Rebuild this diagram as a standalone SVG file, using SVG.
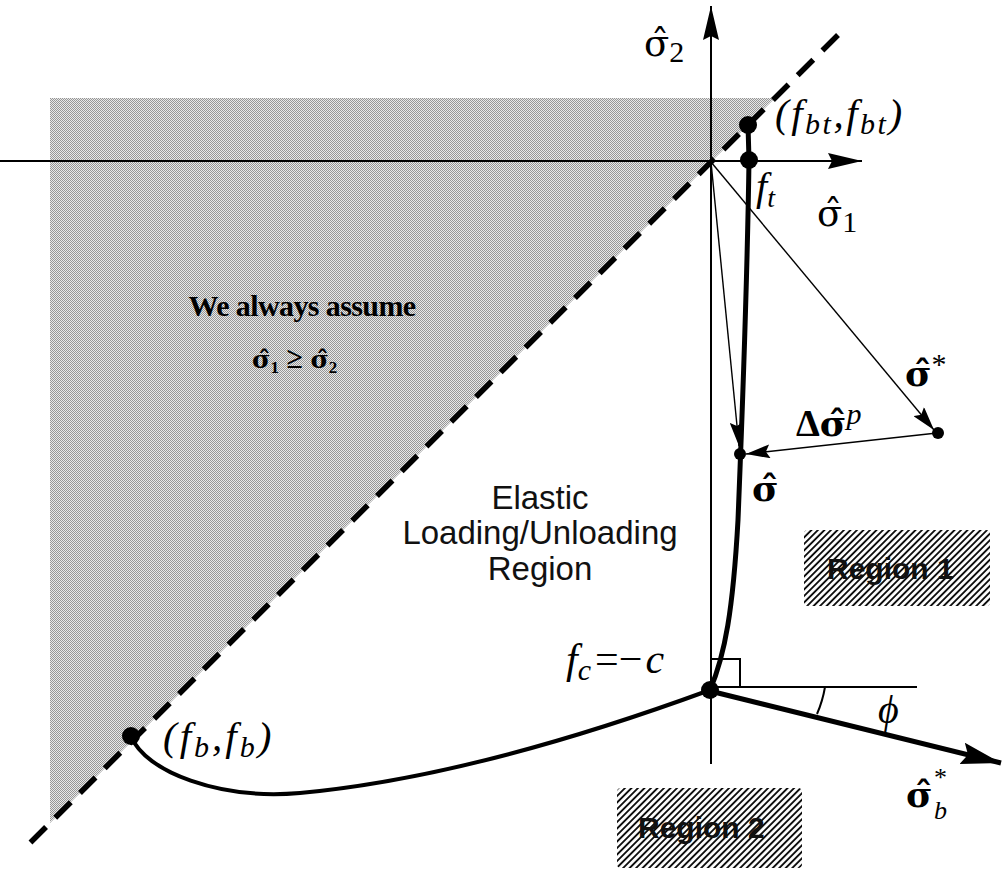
<svg xmlns="http://www.w3.org/2000/svg" width="1003" height="871" viewBox="0 0 1003 871">
<defs>
<pattern id="dots" width="2" height="2" patternUnits="userSpaceOnUse">
<rect width="2" height="2" fill="#e8e8e8"/>
<rect width="1" height="1" fill="#969696"/>
<rect x="1" y="1" width="1" height="1" fill="#969696"/>
</pattern>
<pattern id="hatch" width="4.6" height="10" patternUnits="userSpaceOnUse" patternTransform="rotate(45)">
<rect width="4.6" height="10" fill="#fff"/>
<line x1="1" y1="0" x2="1" y2="10" stroke="#000" stroke-width="1.8"/>
</pattern>
<marker id="axh" viewBox="0 0 34 16" refX="34" refY="8" markerWidth="34" markerHeight="16" markerUnits="userSpaceOnUse" orient="auto">
<path d="M0,0 L34,8 L0,16 L4,8 z" fill="#000"/>
</marker>
<marker id="mh" viewBox="0 0 24 14" refX="24" refY="7" markerWidth="24" markerHeight="14" markerUnits="userSpaceOnUse" orient="auto">
<path d="M0,0 L24,7 L0,14 L4,7 z" fill="#000"/>
</marker>
<marker id="bh" viewBox="0 0 40 22" refX="40" refY="11" markerWidth="40" markerHeight="22" markerUnits="userSpaceOnUse" orient="auto">
<path d="M0,0 L40,11 L0,22 L6,11 z" fill="#000"/>
</marker>
</defs>
<style>
.ax{stroke:#000;stroke-width:2;fill:none}
.thin{stroke:#000;stroke-width:1.4;fill:none}
.thick{stroke:#000;stroke-width:5;fill:none;stroke-linecap:round}
.mid{stroke:#000;stroke-width:4;fill:none;stroke-linecap:round}
.serif{font-family:"Liberation Serif","Times New Roman",serif;fill:#000}
.dj{font-family:"DejaVu Serif",serif;fill:#000}
.it{font-style:italic}
.up{font-style:normal}
.b{font-weight:bold}
.nb{font-weight:normal}
.sans{font-family:"Liberation Sans",Arial,sans-serif;fill:#111}
.dot{fill:#000}
.region{fill:url(#hatch)}
</style>

<g id="shading">
<polygon points="50,98 775,98 50,823" fill="url(#dots)"/>
</g>

<g id="connectors">
<line id="sigma1-axis" class="ax" x1="0" y1="161" x2="862" y2="161" marker-end="url(#axh)"/>
<line id="sigma2-axis" class="ax" x1="711" y1="764" x2="711" y2="6" marker-end="url(#axh)"/>
<line id="diagonal" x1="838" y1="35" x2="28" y2="845" stroke="#000" stroke-width="5.5" stroke-dasharray="22 13"/>
<line id="fbt-ft" class="thick" x1="748" y1="125" x2="749" y2="160"/>
<path id="tension-curve" class="thick" d="M749,160 C747,300 742,420 738,520 C733,610 725,655 710,690"/>
<path id="compression-curve" class="mid" d="M131,736 C145,772 220,800 300,793 C420,782 560,745 710,690"/>
<line id="trial-arrow" class="thin" x1="711" y1="162" x2="934" y2="430" marker-end="url(#mh)"/>
<line id="elastic-arrow" class="thin" x1="711" y1="162" x2="739" y2="446" marker-end="url(#mh)"/>
<line id="return-arrow" class="thin" x1="937" y1="433" x2="746" y2="454" marker-end="url(#mh)"/>
<line id="ref-line" class="ax" x1="710" y1="687" x2="917" y2="687"/>
<polyline id="right-angle" class="ax" points="711,659 740,659 740,687"/>
<line id="sigma-b-arrow" stroke="#000" stroke-width="5" x1="710" y1="691" x2="1001" y2="763" marker-end="url(#bh)"/>
<path id="phi-arc" class="ax" d="M825,687 A115,115 0 0 1 817,714"/>
</g>

<g id="node-fbt">
<circle class="dot" cx="748" cy="125" r="9"/>
<text class="serif it" font-size="41" letter-spacing="2.5" x="775" y="127">(f<tspan font-size="30" dy="7">bt</tspan><tspan dy="-7">,f</tspan><tspan font-size="30" dy="7">bt</tspan><tspan dy="-7">)</tspan></text>
</g>
<g id="node-ft">
<circle class="dot" cx="749" cy="160" r="9"/>
<text class="serif it" font-size="40" x="756" y="200">f<tspan font-size="28" dy="7">t</tspan></text>
</g>
<g id="label-sigma2">
<text class="dj" font-size="37" x="644" y="56">σ̂<tspan class="serif" font-size="30" dy="6">2</tspan></text>
</g>
<g id="label-sigma1">
<text class="dj" font-size="37" x="817" y="226">σ̂<tspan class="serif" font-size="30" dy="6">1</tspan></text>
</g>
<g id="node-sigma-star">
<circle class="dot" cx="938" cy="433" r="6"/>
<text class="dj b" font-size="36" x="905" y="386">σ̂<tspan class="serif nb" font-size="30" dy="-12">*</tspan></text>
</g>
<g id="label-delta">
<text class="serif b" font-size="38" x="796" y="436">Δ<tspan class="dj" font-size="36">σ̂</tspan><tspan class="it nb" font-size="30" dy="-12">p</tspan></text>
</g>
<g id="node-sigma">
<circle class="dot" cx="740" cy="454" r="6"/>
<text class="dj b" font-size="36" x="752" y="501">σ̂</text>
</g>
<g id="note-assume">
<text class="serif b" font-size="30" letter-spacing="-0.6" text-anchor="middle" x="302" y="316">We always assume</text>
<text class="dj b" font-size="25" x="252" y="368">σ̂<tspan class="serif" font-size="17" dy="5">1</tspan><tspan class="serif" font-size="30" dy="-5"> ≥ </tspan>σ̂<tspan class="serif" font-size="17" dy="5">2</tspan></text>
</g>
<g id="elastic-region">
<text class="sans" font-size="33" text-anchor="middle" x="540" y="509">Elastic</text>
<text class="sans" font-size="33" text-anchor="middle" x="540" y="544">Loading/Unloading</text>
<text class="sans" font-size="33" text-anchor="middle" x="540" y="580">Region</text>
</g>
<g id="region1">
<rect class="region" x="804" y="530" width="186" height="76" rx="4"/>
<text class="sans b" font-size="30" x="827" y="579">Region 1</text>
</g>
<g id="region2">
<rect class="region" x="617" y="788" width="185" height="80" rx="4"/>
<text class="sans b" font-size="30" x="638" y="838">Region 2</text>
</g>
<g id="node-fc">
<circle class="dot" cx="710" cy="690" r="9"/>
<text class="serif it" font-size="42" x="566" y="673">f<tspan font-size="30" dy="7">c</tspan><tspan class="up" dx="4" dy="-7">=−</tspan><tspan dx="3">c</tspan></text>
</g>
<g id="node-fb">
<circle class="dot" cx="131" cy="736" r="9"/>
<text class="serif it" font-size="41" letter-spacing="3" x="163" y="750">(f<tspan font-size="30" dy="7">b</tspan><tspan dy="-7">,f</tspan><tspan font-size="30" dy="7">b</tspan><tspan dy="-7">)</tspan></text>
</g>
<g id="label-phi">
<text class="serif it" font-size="40" x="878" y="723">ϕ</text>
</g>
<g id="label-sigma-b">
<text class="dj b" font-size="36" x="906" y="807">σ̂<tspan class="serif nb" font-size="26" x="934" y="786">*</tspan><tspan class="serif it nb" font-size="26" x="934" y="819">b</tspan></text>
</g>
</svg>
